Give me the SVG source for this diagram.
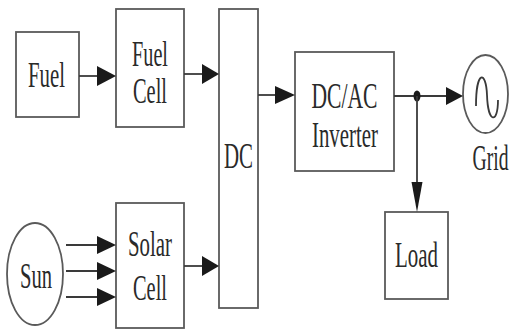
<svg xmlns="http://www.w3.org/2000/svg" width="511" height="329" viewBox="0 0 511 329">
<style>
.box{fill:#fff;stroke:#5a5a5a;stroke-width:1.8}
.ln{stroke:#3a3a3a;stroke-width:1.8;fill:none}
.hd{fill:#1a1a1a}
.t{font-family:"Liberation Serif","Times New Roman",serif;font-size:35px;fill:#2a2a2a;text-anchor:middle}
</style>
<rect width="511" height="329" fill="#fff"/>
<g id="fuel"><rect class="box" x="16" y="32" width="63" height="85"/><text class="t" x="46.5" y="87" textLength="37" lengthAdjust="spacingAndGlyphs">Fuel</text></g>
<g id="fuelcell"><rect class="box" x="116" y="9" width="68" height="118"/><text class="t" x="150" y="66" textLength="36" lengthAdjust="spacingAndGlyphs">Fuel</text><text class="t" x="150" y="103" textLength="34" lengthAdjust="spacingAndGlyphs">Cell</text></g>
<g id="dc"><rect class="box" x="219" y="9" width="39" height="299"/><text class="t" x="238.5" y="168" textLength="29" lengthAdjust="spacingAndGlyphs">DC</text></g>
<g id="inverter"><rect class="box" x="295" y="52" width="99" height="119"/><text class="t" x="344.5" y="108" textLength="66" lengthAdjust="spacingAndGlyphs">DC/AC</text><text class="t" x="345" y="147" textLength="66" lengthAdjust="spacingAndGlyphs">Inverter</text></g>
<g id="grid"><ellipse class="box" cx="485.5" cy="94" rx="22.5" ry="39"/><path class="ln" stroke-width="1.4" d="M476,106 C476,70 486,70 487,95 C488,124 498,124 498,100"/><text class="t" x="490.5" y="170" textLength="36" lengthAdjust="spacingAndGlyphs">Grid</text></g>
<g id="load"><rect class="box" x="385" y="212" width="63" height="87"/><text class="t" x="416.5" y="267" textLength="43" lengthAdjust="spacingAndGlyphs">Load</text></g>
<g id="sun"><ellipse class="box" cx="35" cy="274" rx="28" ry="51"/><text class="t" x="36" y="288" textLength="32" lengthAdjust="spacingAndGlyphs">Sun</text></g>
<g id="solarcell"><rect class="box" x="116" y="203" width="68" height="125"/><text class="t" x="150" y="256" textLength="44" lengthAdjust="spacingAndGlyphs">Solar</text><text class="t" x="150" y="300" textLength="34" lengthAdjust="spacingAndGlyphs">Cell</text></g>
<g id="connectors">
<path class="ln" d="M79,76 H100"/><polygon class="hd" points="97,66 116,76 97,86"/>
<path class="ln" d="M184,74 H205"/><polygon class="hd" points="202,64 219,74 202,84"/>
<path class="ln" d="M184,266 H205"/><polygon class="hd" points="202,256 219,266 202,276"/>
<path class="ln" d="M258,95 H278"/><polygon class="hd" points="275,86 295,95 275,104"/>
<path class="ln" d="M394,96 H450"/><polygon class="hd" points="446,87 463,96 446,105"/>
<ellipse class="hd" cx="417" cy="96" rx="3.5" ry="5.5"/>
<path class="ln" d="M417,96 V185"/><polygon class="hd" points="411.5,182 422.5,182 417,212"/>
<path class="ln" d="M66,245 H100"/><polygon class="hd" points="97,236 116,245 97,254"/>
<path class="ln" d="M66,271 H100"/><polygon class="hd" points="97,262 116,271 97,280"/>
<path class="ln" d="M66,297 H100"/><polygon class="hd" points="97,288 116,297 97,306"/>
</g>
</svg>
